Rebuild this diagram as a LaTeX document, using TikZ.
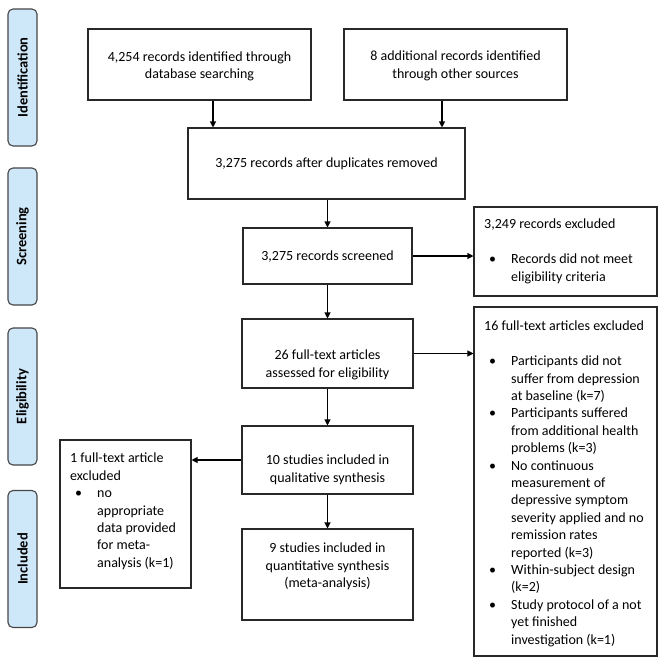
\documentclass[tikz,border=0pt]{standalone}
\usepackage{fontspec}
\setmainfont{Carlito}
\usetikzlibrary{arrows.meta}
\definecolor{phasefill}{RGB}{206,231,249}
\definecolor{phaseline}{RGB}{70,70,70}
\definecolor{boxline}{RGB}{40,40,40}
\newcommand{\mybul}{\makebox[27pt][l]{\hspace*{5pt}\textbullet}}
\newcommand{\myind}{\hspace*{27pt}}
\begin{document}
\begin{tikzpicture}[x=1pt,y=-1pt, font=\fontsize{14}{17.4}\selectfont,
 box/.style={draw=boxline, line width=1.1pt, inner sep=0pt},
 phase/.style={draw=phaseline, fill=phasefill, line width=1.1pt, rounded corners=5pt,
   minimum width=137pt, minimum height=29pt, rotate=90,
   font=\fontsize{14.5}{17}\selectfont\bfseries, inner sep=0pt},
 txt/.style={align=center, inner sep=0pt, anchor=north},
 ltxt/.style={align=left, inner sep=0pt, anchor=north west},
 arr/.style={draw=black, line width=1.1pt, -{Triangle[length=6pt,width=6pt]}}]
\useasboundingbox (0,0) rectangle (669,665);
\fill[white] (0,0) rectangle (669,665);

% phase labels
\node[phase] (p1) at (22.5,77.5) {Identification};
\node[phase] (p2) at (22.5,236.5) {Screening};
\node[phase] (p3) at (22.5,396.5) {Eligibility};
\node[phase] (p4) at (22.5,559) {Included};

% boxes
\node[box, minimum width=223pt, minimum height=71pt] (b1) at (199.5,64.5) {};
\node[box, minimum width=223pt, minimum height=71pt] (b2) at (455.5,64.5) {};
\node[box, minimum width=277pt, minimum height=71pt] (dup) at (326.5,163.5) {};
\node[box, minimum width=169pt, minimum height=56pt] (scr) at (327.5,256) {};
\node[box, minimum width=183pt, minimum height=89pt] (exc1) at (565.5,251.5) {};
\node[box, minimum width=171pt, minimum height=69pt] (full) at (327.5,353.5) {};
\node[box, minimum width=183pt, minimum height=349pt] (exc2) at (565.5,481.5) {};
\node[box, minimum width=171pt, minimum height=68pt] (qual) at (327.5,460) {};
\node[box, minimum width=171pt, minimum height=91pt] (quant) at (327.5,574.5) {};
\node[box, minimum width=131pt, minimum height=148pt] (exc3) at (125.5,514) {};

% texts
\node[txt] (t1) at (199.5,49) {\strut 4,254 records identified through\\database searching};
\node[txt] (t2) at (455.5,48.5) {\strut 8 additional records identified\\through other sources};
\node[txt] (t3) at (326.5,155.5) {\strut 3,275 records after duplicates removed};
\node[txt] (t4) at (327.5,248.5) {\strut 3,275 records screened};
\node[txt] (t5) at (327.5,347.5) {\strut 26 full-text articles\\assessed for eligibility};
\node[txt] (t6) at (327.5,452.5) {\strut 10 studies included in\\qualitative synthesis};
\node[txt] (t7) at (327.5,540.5) {\strut 9 studies included in\\quantitative synthesis\\(meta-analysis)};
\node[ltxt] (t8) at (484,216.5) {\strut 3,249 records excluded\\[17.4pt]
\mybul Records did not meet\\
\myind eligibility criteria};
\node[ltxt] (t9) at (484,318.5) {\strut 16 full-text articles excluded\\[17.4pt]
\mybul Participants did not\\
\myind suffer from depression\\
\myind at baseline (k=7)\\
\mybul Participants suffered\\
\myind from additional health\\
\myind problems (k=3)\\
\mybul No continuous\\
\myind measurement of\\
\myind depressive symptom\\
\myind severity applied and no\\
\myind remission rates\\
\myind reported (k=3)\\
\mybul Within-subject design\\
\myind (k=2)\\
\mybul Study protocol of a not\\
\myind yet finished\\
\myind investigation (k=1)};
\node[ltxt] (t10) at (70,450.5) {\strut 1 full-text article\\
excluded\\
\mybul no\\
\myind appropriate\\
\myind data provided\\
\myind for meta-\\
\myind analysis (k=1)};

% connectors
\coordinate (a1) at (213,0);
\coordinate (a2) at (442,0);
\draw[arr] (b1.south -| a1) -- (dup.north -| a1);
\draw[arr] (b2.south -| a2) -- (dup.north -| a2);
\draw[arr] (dup.south -| scr.north) -- (scr.north);
\draw[arr] (scr.east) -- (scr.east -| exc1.west);
\draw[arr] (scr.south) -- (full.north);
\draw[arr] (full.east) -- (full.east -| exc2.west);
\draw[arr] (full.south) -- (qual.north);
\draw[arr] (qual.west) -- (qual.west -| exc3.east);
\draw[arr] (qual.south) -- (quant.north);
\end{tikzpicture}
\end{document}
